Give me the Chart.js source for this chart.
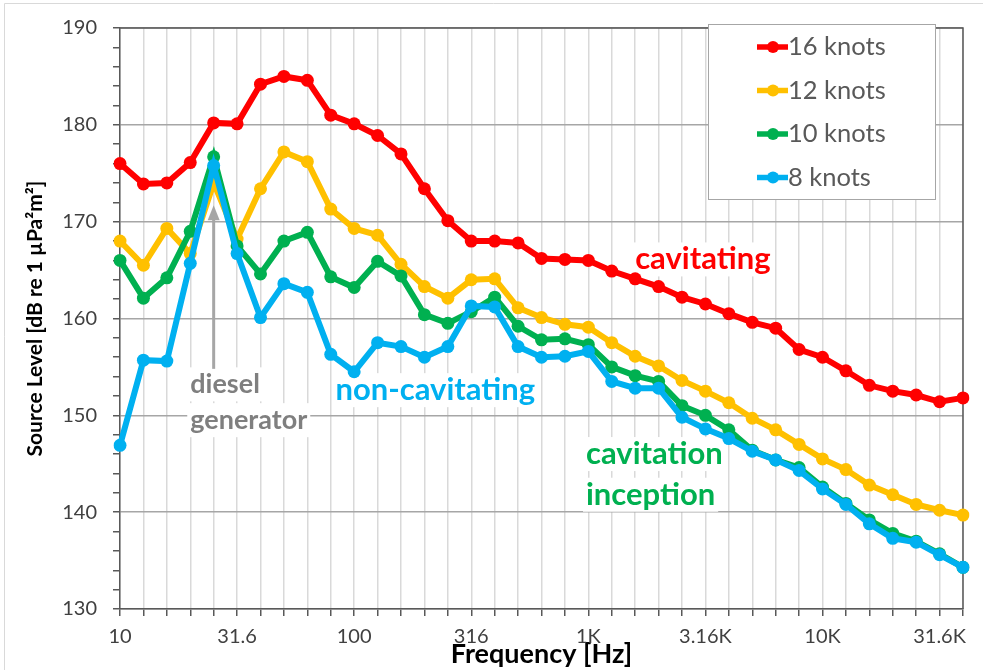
<!DOCTYPE html>
<html>
<head>
<meta charset="utf-8">
<script src="https://cdn.jsdelivr.net/npm/chart.js@4.4.0/dist/chart.umd.min.js"></script>
<style>
  html, body { margin: 0; padding: 0; background: #fff; }
  #wrap { width: 983px; height: 670px; }
</style>
</head>
<body>
<div id="wrap"><canvas id="chart" width="983" height="670"></canvas></div>
<script>
// 1/3 octave band centres
const freqLabels = ["10","12.5","16","20","25","31.6","40","50","63","80",
    "100","125","160","200","250","316","400","500","630","800",
    "1K","1.25K","1.6K","2K","2.5K","3.16K","4K","5K","6.3K","8K",
    "10K","12.5K","16K","20K","25K","31.6K","40K"];
const shownTicks = ["10","31.6","100","316","1K","3.16K","10K","31.6K"];

const knots16 = [176.0,173.9,174.0,176.1,180.2,180.1,184.2,185.0,184.6,181.0,
    180.1,178.9,177.0,173.4,170.1,168.0,168.0,167.8,166.2,166.1,
    166.0,164.9,164.1,163.3,162.2,161.5,160.5,159.6,159.0,156.8,
    156.0,154.6,153.1,152.5,152.1,151.4,151.8];
const knots12 = [168.0,165.5,169.3,166.7,174.0,168.2,173.4,177.2,176.2,171.3,
    169.3,168.6,165.6,163.3,162.1,164.0,164.1,161.1,160.1,159.4,
    159.1,157.5,156.1,155.1,153.6,152.5,151.3,149.7,148.5,147.0,
    145.5,144.4,142.8,141.8,140.8,140.2,139.7];
const knots10 = [166.0,162.1,164.2,169.0,176.7,167.5,164.6,168.0,168.9,164.3,
    163.2,165.9,164.4,160.4,159.5,160.7,162.2,159.2,157.8,157.9,
    157.3,155.0,154.1,153.5,151.0,150.0,148.5,146.4,145.4,144.6,
    142.6,140.9,139.2,137.8,137.0,135.7,134.3];
const knots8 = [146.9,155.7,155.6,165.7,175.8,166.7,160.1,163.6,162.7,156.3,
    154.5,157.5,157.1,156.0,157.1,161.3,161.2,157.1,156.0,156.1,
    156.6,153.5,152.8,152.8,149.8,148.6,147.6,146.3,145.4,144.3,
    142.4,140.8,138.8,137.3,136.9,135.6,134.3];

const seriesNames = ["16 knots", "12 knots", "10 knots", "8 knots"];
const seriesColors = ["#ff0000", "#ffc000", "#00b050", "#00b0f0"];

// text notes on the plot, placed in data coordinates (band index, dB)
const notes = [
    { text: "cavitating", x: 22.0, y: 166.1, color: "#ff0000", size: 31 },
    { text: "non-cavitating", x: 9.2, y: 152.6, color: "#00b0f0", size: 31 },
    { text: "cavitation", x: 19.9, y: 146.0, color: "#00b050", size: 31 },
    { text: "inception", x: 19.9, y: 141.8, color: "#00b050", size: 31 },
    { text: "diesel", x: 3.0, y: 153.2, color: "#7f7f7f", size: 27 },
    { text: "generator", x: 3.0, y: 149.5, color: "#7f7f7f", size: 27 }
];

Chart.defaults.font.family = "Lato";
Chart.defaults.color = "#404040";

const framePlugin = {
    id: "frame",
    beforeDraw(chart) {
        const c = chart.ctx;
        c.save();
        c.strokeStyle = "#d9d9d9";
        c.lineWidth = 1;
        c.beginPath();
        c.moveTo(4.5, 670); c.lineTo(4.5, 3.5); c.lineTo(983, 3.5);
        c.stroke();
        c.restore();
    },
    beforeDatasetsDraw(chart) {
        const c = chart.ctx, a = chart.chartArea;
        const xs = chart.scales.x, ys = chart.scales.y;
        c.save();
        // white boxes + text notes
        c.textBaseline = "middle";
        notes.forEach(n => {
            c.font = "bold " + n.size + "px Lato";
            const px = xs.getPixelForValue(n.x), py = ys.getPixelForValue(n.y);
            const w = c.measureText(n.text).width;
            c.fillStyle = "#fff";
            c.fillRect(px - 3, py - 17, w + 6, 34);
            c.fillStyle = n.color;
            c.fillText(n.text, px, py);
        });
        // diesel generator arrow
        const ax = xs.getPixelForValue(4);
        const y0 = ys.getPixelForValue(154.8), y1 = ys.getPixelForValue(171.7);
        c.strokeStyle = "#a6a6a6";
        c.fillStyle = "#a6a6a6";
        c.lineWidth = 3;
        c.beginPath(); c.moveTo(ax, y0); c.lineTo(ax, y1 + 12); c.stroke();
        c.beginPath(); c.moveTo(ax, y1); c.lineTo(ax - 6, y1 + 15); c.lineTo(ax + 6, y1 + 15);
        c.closePath(); c.fill();
        // top and right frame
        c.strokeStyle = "#595959";
        c.lineWidth = 1.5;
        c.beginPath();
        c.moveTo(a.left, a.top); c.lineTo(a.right, a.top); c.lineTo(a.right, a.bottom);
        c.stroke();
        c.restore();
    },
    afterDraw(chart) {
        const c = chart.ctx;
        const bx = 708, by = 24, bw = 227, bh = 175;
        c.save();
        c.fillStyle = "#fff";
        c.fillRect(bx, by, bw, bh);
        c.strokeStyle = "#a6a6a6";
        c.lineWidth = 1;
        c.strokeRect(bx + 0.5, by + 0.5, bw, bh);
        c.font = "25.5px Lato";
        c.textBaseline = "middle";
        chart.data.datasets.forEach((ds, i) => {
            const ry = by + 23 + i * 43.5;
            c.strokeStyle = ds.borderColor;
            c.fillStyle = ds.borderColor;
            c.lineWidth = 5.5;
            c.beginPath(); c.moveTo(757, ry); c.lineTo(788, ry); c.stroke();
            c.beginPath(); c.arc(773, ry, 6, 0, Math.PI * 2); c.fill();
            c.fillStyle = "#595959";
            c.fillText(ds.label, 788, ry);
        });
        c.restore();
    }
};

const seriesData = [knots16, knots12, knots10, knots8];

new Chart(document.getElementById("chart"), {
    type: "line",
    data: {
        labels: freqLabels,
        datasets: seriesData.map((d, i) => ({
            label: seriesNames[i],
            data: d,
            borderColor: seriesColors[i],
            backgroundColor: seriesColors[i],
            borderWidth: 6,
            pointRadius: 6.5,
            pointBorderWidth: 0,
            tension: 0,
            order: 4 - i
        }))
    },
    options: {
        responsive: false,
        animation: false,
        layout: { padding: { top: 19, right: 20, left: 0, bottom: 0 } },
        plugins: { legend: { display: false }, tooltip: { enabled: false } },
        scales: {
            x: {
                type: "category",
                offset: false,
                afterFit: s => { s.height = 61; },
                grid: { color: "#d9d9d9", lineWidth: 1.5, tickColor: "#595959", tickLength: 7 },
                border: { color: "#595959", width: 1.5 },
                ticks: {
                    autoSkip: false, maxRotation: 0, padding: 9,
                    font: { size: 20 }, color: "#404040",
                    callback: function (v) {
                        const l = this.getLabelForValue(v);
                        return shownTicks.includes(l) ? l : "";
                    }
                },
                title: {
                    display: true, text: "Frequency [Hz]", color: "#000",
                    font: { size: 27, weight: "bold" }, padding: { top: 0, bottom: 0 }
                }
            },
            y: {
                min: 130, max: 190,
                afterFit: s => { s.width = 120; },
                grid: {
                    color: ctx => ctx.tick.value % 10 === 0 ? "#a6a6a6" : "rgba(0,0,0,0)",
                    lineWidth: 1.5, tickColor: "#595959", tickLength: 7
                },
                border: { color: "#595959", width: 1.5 },
                ticks: {
                    stepSize: 2, autoSkip: false, padding: 16, font: { size: 20 }, color: "#404040",
                    callback: v => v % 10 === 0 ? v : ""
                },
                title: {
                    display: true, text: "Source Level [dB re 1 µPa²m²]", color: "#000",
                    font: { size: 21, weight: "bold" }, padding: { top: 23, bottom: 0 }
                }
            }
        }
    },
    plugins: [framePlugin]
});
</script>
</body>
</html>
